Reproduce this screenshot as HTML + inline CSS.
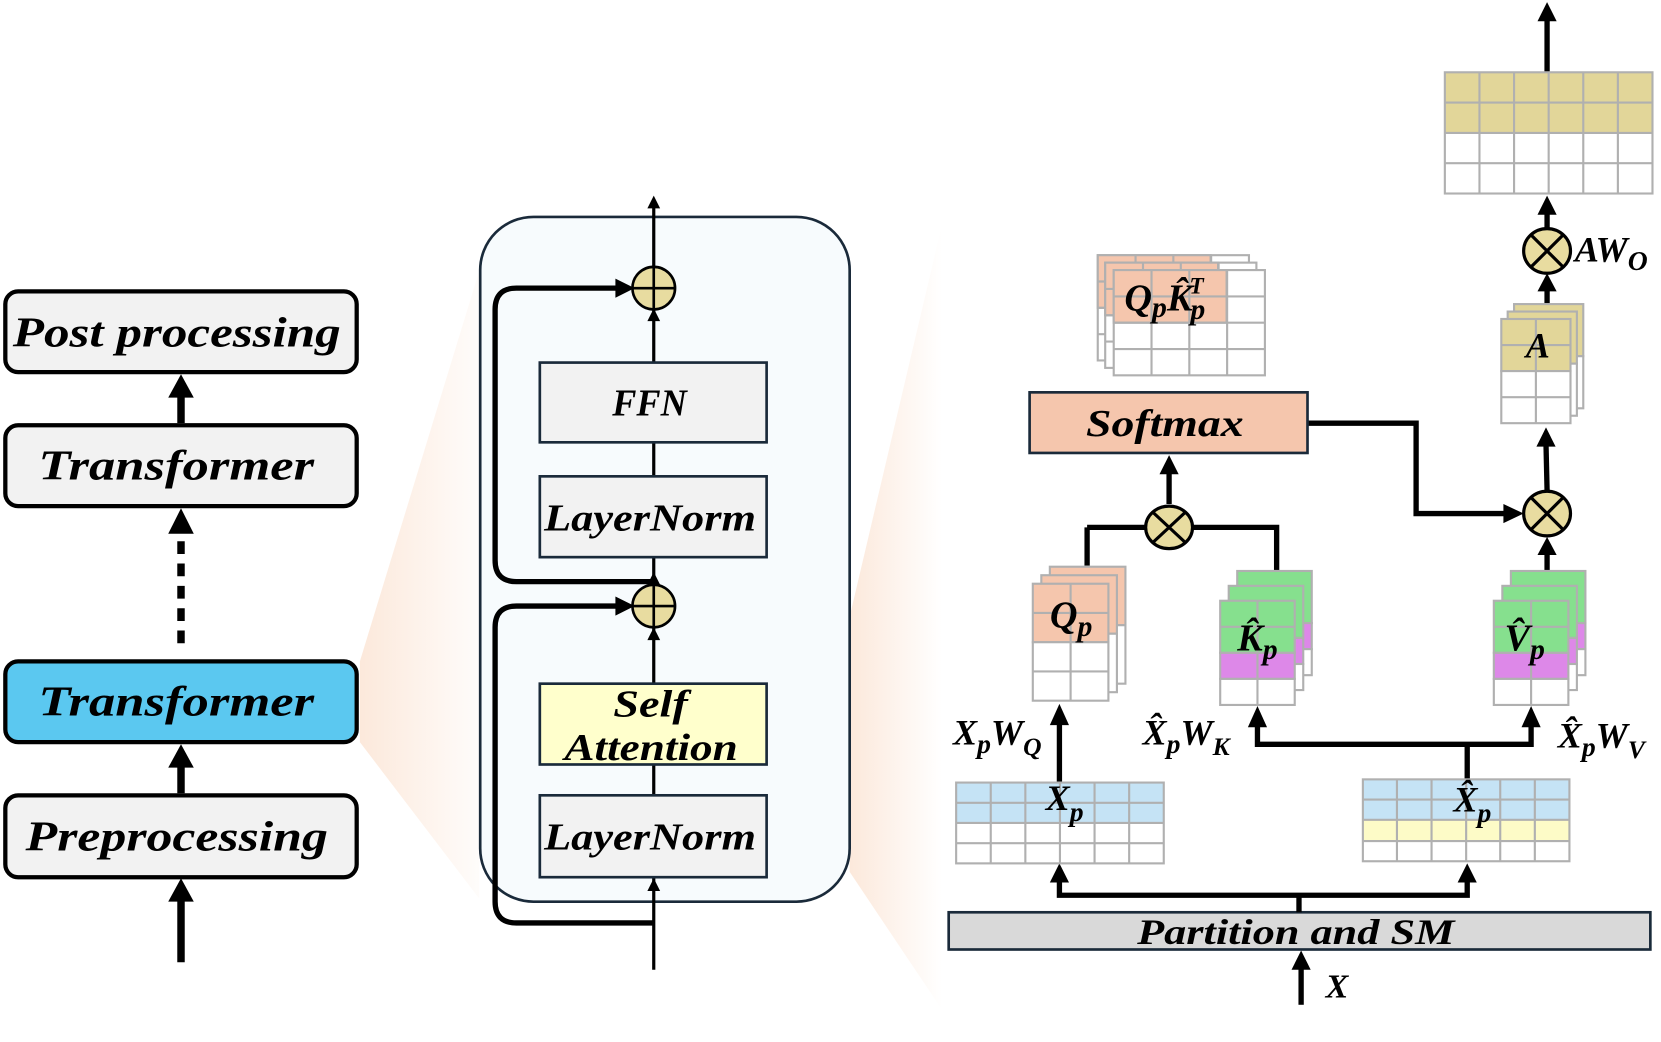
<!DOCTYPE html>
<html><head><meta charset="utf-8"><style>
html,body{margin:0;padding:0;background:#fff;}
svg{display:block;}
text{font-family:"Liberation Serif",serif;font-weight:bold;font-style:italic;fill:#000;}
</style></head><body>
<svg width="1661" height="1042" viewBox="0 0 1560 980" preserveAspectRatio="none" xmlns="http://www.w3.org/2000/svg">
<defs>
<linearGradient id="g1" x1="0" y1="0" x2="1" y2="0"><stop offset="0" stop-color="#fbe3d2" stop-opacity="0.8"/><stop offset="1" stop-color="#fbe3d2" stop-opacity="0.1"/></linearGradient>
<linearGradient id="g2" x1="0" y1="0" x2="1" y2="0"><stop offset="0" stop-color="#fbe3d2" stop-opacity="0.8"/><stop offset="1" stop-color="#fbe3d2" stop-opacity="0"/></linearGradient>
</defs>
<polygon points="338,622 338,698 450,845 450,255" fill="url(#g1)"/>
<polygon points="798,580 798,820 885,950 885,210" fill="url(#g2)"/>

<g stroke="#000" stroke-width="4">
<rect x="5" y="274" width="330" height="76" rx="12" fill="#f2f2f2"/>
<rect x="5" y="400" width="330" height="76" rx="12" fill="#f2f2f2"/>
<rect x="5" y="622" width="330" height="76" rx="12" fill="#5bc8f0"/>
<rect x="5" y="748" width="330" height="77" rx="12" fill="#f2f2f2"/>
</g>
<g stroke="#000" stroke-width="7" fill="none">
<line x1="170" y1="905" x2="170" y2="842"/>
<line x1="170" y1="746" x2="170" y2="715"/>
<line x1="170" y1="605" x2="170" y2="495" stroke-dasharray="12,9"/>
<line x1="170" y1="398" x2="170" y2="368"/>
</g>
<g fill="#000">
<polygon points="158,848 182,848 170,826"/>
<polygon points="158,722 182,722 170,700"/>
<polygon points="158,502 182,502 170,478"/>
<polygon points="158,374 182,374 170,352"/>
</g>
<g font-size="40">
<text x="12" y="326" textLength="308" lengthAdjust="spacingAndGlyphs">Post processing</text>
<text x="36" y="451" textLength="259" lengthAdjust="spacingAndGlyphs">Transformer</text>
<text x="36" y="673" textLength="259" lengthAdjust="spacingAndGlyphs">Transformer</text>
<text x="24" y="800" textLength="284" lengthAdjust="spacingAndGlyphs">Preprocessing</text>
</g>

<rect x="451" y="204" width="347" height="644" rx="50" fill="#f7fbfd" stroke="#1a2a3a" stroke-width="2.5"/>
<line x1="614" y1="912" x2="614" y2="188" stroke="#000" stroke-width="3"/>
<polygon points="608,196 620,196 614,184" fill="#000"/>
<polygon points="608,838 620,838 614,826" fill="#000"/>
<polygon points="608,602 620,602 614,590" fill="#000"/>
<polygon points="608,302 620,302 614,290" fill="#000"/>
<polygon points="608,550 620,550 614,538" fill="#000"/>
<g stroke="#1a2a3a" stroke-width="2.5">
<rect x="507" y="341" width="213" height="75" fill="#f2f2f2"/>
<rect x="507" y="448" width="213" height="76" fill="#f2f2f2"/>
<rect x="507" y="643" width="213" height="76" fill="#ffffcc"/>
<rect x="507" y="748" width="213" height="77" fill="#f2f2f2"/>
</g>
<g font-size="36">
<text x="575" y="391" textLength="70" lengthAdjust="spacingAndGlyphs">FFN</text>
<text x="511" y="499" textLength="199" lengthAdjust="spacingAndGlyphs">LayerNorm</text>
<text x="576" y="674" textLength="70" lengthAdjust="spacingAndGlyphs">Self</text>
<text x="530" y="715" textLength="163" lengthAdjust="spacingAndGlyphs">Attention</text>
<text x="511" y="799" textLength="199" lengthAdjust="spacingAndGlyphs">LayerNorm</text>
</g>
<g stroke="#000" stroke-width="5" fill="none">
<path d="M614,868 H485 Q465,868 465,848 V590 Q465,570 485,570 H582"/>
<path d="M614,547 H485 Q465,547 465,527 V291 Q465,271 485,271 H582"/>
</g>
<polygon points="578,561 596,570 578,579" fill="#000"/>
<polygon points="578,262 596,271 578,280" fill="#000"/>
<g stroke="#000" stroke-width="2.5" fill="#e8dca0">
<circle cx="614" cy="271" r="20"/><circle cx="614" cy="570" r="20"/>
</g>
<g stroke="#000" stroke-width="2.5">
<line x1="594" y1="271" x2="634" y2="271"/><line x1="614" y1="251" x2="614" y2="291"/>
<line x1="594" y1="570" x2="634" y2="570"/><line x1="614" y1="550" x2="614" y2="590"/>
</g>

<rect x="891" y="858" width="659" height="35" fill="#d9d9d9" stroke="#1a2a3a" stroke-width="2.5"/>
<text x="1068" y="888" font-size="34" textLength="298" lengthAdjust="spacingAndGlyphs">Partition and SM</text>
<g stroke="#000" stroke-width="5" fill="none">
<line x1="1222" y1="945" x2="1222" y2="910"/>
<path d="M1220,858 V842 M995,828 V842 H1378 V828"/>
<line x1="995" y1="736" x2="995" y2="680"/>
<path d="M1378,733 V700 M1181,682 V700 H1438 V682"/>
<line x1="1021" y1="532" x2="1021" y2="496"/><line x1="1021" y1="496" x2="1078" y2="496"/>
<path d="M1199,537 V496 H1118"/>
<line x1="1098" y1="474" x2="1098" y2="444"/>
<path d="M1228,398 H1330 V483 H1415"/>
<line x1="1453" y1="537" x2="1453" y2="520"/>
<line x1="1453" y1="461" x2="1452" y2="418"/>
<line x1="1453" y1="287" x2="1453" y2="272"/>
<line x1="1453" y1="214" x2="1453" y2="200"/>
<line x1="1453" y1="68" x2="1453" y2="18"/>
</g>
<g fill="#000">
<polygon points="1213,912 1231,912 1222,894"/>
<polygon points="986,830 1004,830 995,812"/>
<polygon points="1369,830 1387,830 1378,812"/>
<polygon points="986,682 1004,682 995,662"/>
<polygon points="1172,684 1190,684 1181,664"/>
<polygon points="1429,684 1447,684 1438,664"/>
<polygon points="1089,446 1107,446 1098,428"/>
<polygon points="1412,474 1431,483 1412,492"/>
<polygon points="1444,522 1462,522 1453,505"/>
<polygon points="1443,420 1461,420 1452,402"/>
<polygon points="1444,274 1462,274 1453,257"/>
<polygon points="1444,202 1462,202 1453,184"/>
<polygon points="1444,20 1462,20 1453,2"/>
</g>
<text x="1245" y="938" font-size="32">X</text>

<rect x="898" y="736" width="195" height="38" fill="#c5e3f5"/>
<rect x="898" y="774" width="195" height="38" fill="#fff"/>
<g stroke="#b0b0b0" stroke-width="2" fill="none">
<rect x="898" y="736" width="195" height="76"/>
<path d="M930.5,736V812M963,736V812M995.5,736V812M1028,736V812M1060.5,736V812M898,755H1093M898,774H1093M898,793H1093"/>
</g>
<text x="982" y="762" font-size="34">X<tspan font-size="26" dy="10">p</tspan></text>
<rect x="1280" y="733" width="194" height="38" fill="#c5e3f5"/>
<rect x="1280" y="771" width="194" height="20" fill="#fdfbc7"/>
<rect x="1280" y="791" width="194" height="19" fill="#fff"/>
<g stroke="#b0b0b0" stroke-width="2" fill="none">
<rect x="1280" y="733" width="194" height="77"/>
<path d="M1312,733V810M1344.5,733V810M1377,733V810M1409,733V810M1441.5,733V810M1280,752H1474M1280,771H1474M1280,791H1474"/>
</g>
<text x="1365" y="763" font-size="34">X̂<tspan font-size="26" dy="10">p</tspan></text>
<text x="895" y="700" font-size="34">X<tspan font-size="26" dy="8">p</tspan><tspan dy="-8">W</tspan><tspan font-size="24" dy="10">Q</tspan></text>
<text x="1073" y="700" font-size="34">X̂<tspan font-size="26" dy="8">p</tspan><tspan dy="-8">W</tspan><tspan font-size="24" dy="10">K</tspan></text>
<text x="1463" y="703" font-size="34">X̂<tspan font-size="26" dy="8">p</tspan><tspan dy="-8">W</tspan><tspan font-size="24" dy="10">V</tspan></text>

<g stroke="#b0b0b0" stroke-width="2">
<g transform="translate(16,-16)"><rect x="970" y="549" width="71" height="55" fill="#f5c6ad"/><rect x="970" y="604" width="71" height="55" fill="#fff"/></g>
<g transform="translate(8,-8)"><rect x="970" y="549" width="71" height="55" fill="#f5c6ad"/><rect x="970" y="604" width="71" height="55" fill="#fff"/></g>
<rect x="970" y="549" width="71" height="55" fill="#f5c6ad"/><rect x="970" y="604" width="71" height="55" fill="#fff"/>
<path d="M1005.5,549V659M970,576.5H1041M970,631.5H1041" fill="none"/>
</g>
<text x="986" y="590" font-size="36">Q<tspan font-size="28" dy="8">p</tspan></text>

<g stroke="#b0b0b0" stroke-width="2">
<g transform="translate(16,-28)"><rect x="1146" y="565" width="70" height="49" fill="#86e08e"/><rect x="1146" y="614" width="70" height="24.5" fill="#dd88e8"/><rect x="1146" y="638.5" width="70" height="24.5" fill="#fff"/></g>
<g transform="translate(8,-14)"><rect x="1146" y="565" width="70" height="49" fill="#86e08e"/><rect x="1146" y="614" width="70" height="24.5" fill="#dd88e8"/><rect x="1146" y="638.5" width="70" height="24.5" fill="#fff"/></g>
<rect x="1146" y="565" width="70" height="49" fill="#86e08e"/><rect x="1146" y="614" width="70" height="24.5" fill="#dd88e8"/><rect x="1146" y="638.5" width="70" height="24.5" fill="#fff"/>
<path d="M1181,565V663M1146,589.5H1216" fill="none"/>
</g>
<text x="1162" y="612" font-size="36">K̂<tspan font-size="28" dy="8">p</tspan></text>
<g stroke="#b0b0b0" stroke-width="2">
<g transform="translate(16,-28)"><rect x="1403" y="565" width="70" height="49" fill="#86e08e"/><rect x="1403" y="614" width="70" height="24.5" fill="#dd88e8"/><rect x="1403" y="638.5" width="70" height="24.5" fill="#fff"/></g>
<g transform="translate(8,-14)"><rect x="1403" y="565" width="70" height="49" fill="#86e08e"/><rect x="1403" y="614" width="70" height="24.5" fill="#dd88e8"/><rect x="1403" y="638.5" width="70" height="24.5" fill="#fff"/></g>
<rect x="1403" y="565" width="70" height="49" fill="#86e08e"/><rect x="1403" y="614" width="70" height="24.5" fill="#dd88e8"/><rect x="1403" y="638.5" width="70" height="24.5" fill="#fff"/>
<path d="M1438,565V663M1403,589.5H1473" fill="none"/>
</g>
<text x="1413" y="612" font-size="36">V̂<tspan font-size="28" dy="8">p</tspan></text>

<g stroke="#b0b0b0" stroke-width="2">
<g transform="translate(-15,-14)"><rect x="1046" y="254" width="142" height="99" fill="#fff"/><rect x="1046" y="254" width="106" height="49.5" fill="#f5c6ad"/><path d="M1081.5,254V353M1117,254V353M1152.5,254V353M1046,278.75H1188M1046,303.5H1188M1046,328.25H1188" fill="none"/></g>
<g transform="translate(-8,-7)"><rect x="1046" y="254" width="142" height="99" fill="#fff"/><rect x="1046" y="254" width="106" height="49.5" fill="#f5c6ad"/><path d="M1081.5,254V353M1117,254V353M1152.5,254V353M1046,278.75H1188M1046,303.5H1188M1046,328.25H1188" fill="none"/></g>
<rect x="1046" y="254" width="142" height="99" fill="#fff"/><rect x="1046" y="254" width="106" height="49.5" fill="#f5c6ad"/><path d="M1081.5,254V353M1117,254V353M1152.5,254V353M1046,278.75H1188M1046,303.5H1188M1046,328.25H1188" fill="none"/>
</g>
<text x="1056" y="292" font-size="36">Q<tspan font-size="28" dy="6">p</tspan><tspan dy="-6">K̂</tspan><tspan font-size="28" dy="8" dx="-2">p</tspan><tspan font-size="22" dx="-15" dy="-24">T</tspan></text>

<rect x="967" y="369" width="261" height="57" fill="#f5c6ad" stroke="#1a2a3a" stroke-width="2.5"/>
<text x="1020" y="410" font-size="36" textLength="148" lengthAdjust="spacingAndGlyphs">Softmax</text>

<g stroke="#b0b0b0" stroke-width="2">
<g transform="translate(12,-14)"><rect x="1410" y="300" width="65" height="49" fill="#e2d699"/><rect x="1410" y="349" width="65" height="49" fill="#fff"/></g>
<g transform="translate(6,-7)"><rect x="1410" y="300" width="65" height="49" fill="#e2d699"/><rect x="1410" y="349" width="65" height="49" fill="#fff"/></g>
<rect x="1410" y="300" width="65" height="49" fill="#e2d699"/><rect x="1410" y="349" width="65" height="49" fill="#fff"/>
<path d="M1442.5,300V398M1410,324.5H1475M1410,373.5H1475" fill="none"/>
</g>
<text x="1433" y="336" font-size="34">A</text>

<rect x="1357" y="68" width="195" height="57" fill="#e2d699"/>
<rect x="1357" y="125" width="195" height="57" fill="#fff"/>
<g stroke="#b0b0b0" stroke-width="2" fill="none">
<rect x="1357" y="68" width="195" height="114"/>
<path d="M1389.5,68V182M1422,68V182M1454.5,68V182M1487,68V182M1519.5,68V182M1357,96.5H1552M1357,125H1552M1357,153.5H1552"/>
</g>

<g stroke="#000" stroke-width="3" fill="#e8dca0">
<ellipse cx="1098" cy="496" rx="22" ry="20"/>
<ellipse cx="1453" cy="483" rx="22" ry="21"/>
<ellipse cx="1453" cy="236" rx="22" ry="21"/>
</g>
<g stroke="#000" stroke-width="3">
<path d="M1083,482L1113,510M1113,482L1083,510"/>
<path d="M1438,468L1468,498M1468,468L1438,498"/>
<path d="M1438,221L1468,251M1468,221L1438,251"/>
</g>
<text x="1479" y="246" font-size="34">AW<tspan font-size="26" dy="8">O</tspan></text>
</svg>
</body></html>
